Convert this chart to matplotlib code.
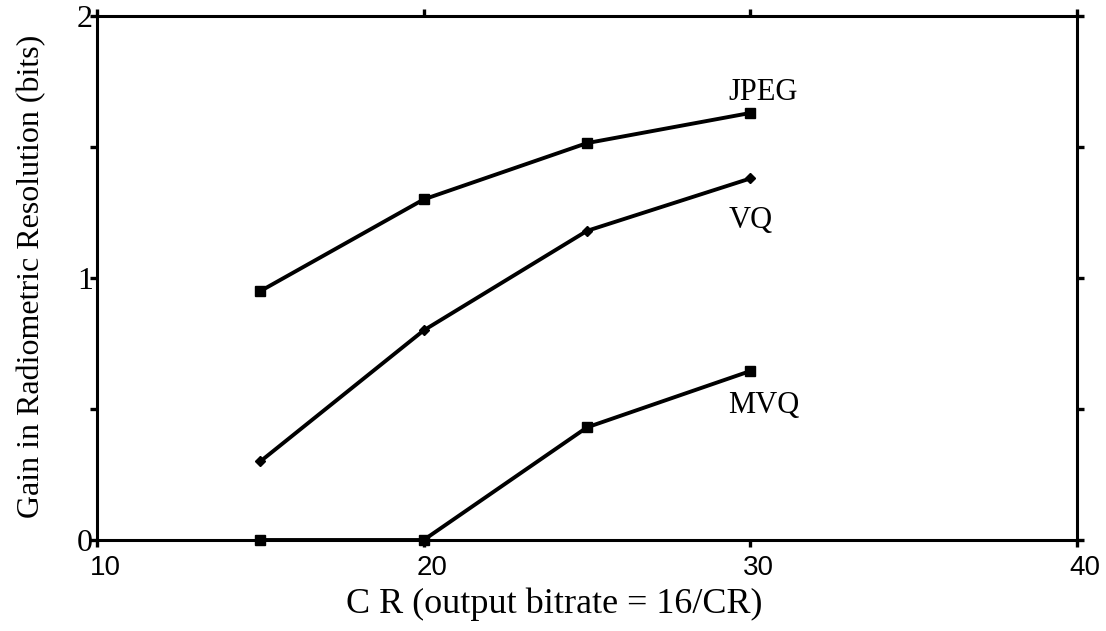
import matplotlib.pyplot as plt
from matplotlib.ticker import FixedLocator
from matplotlib.transforms import ScaledTranslation

# compression ratio and gain in radiometric resolution for each coder
cr = [15, 20, 25, 30]
jpeg_gain = [0.95, 1.30, 1.515, 1.63]
vq_gain = [0.30, 0.80, 1.18, 1.38]
mvq_gain = [0.0, 0.0, 0.43, 0.645]

series_names = ['JPEG', 'VQ', 'MVQ']
name_pos = [(29.32, 1.71), (29.32, 1.22), (29.32, 0.515)]

x_ticks = [10, 20, 30, 40]
y_ticks = [0, 1, 2]

serif = 'Liberation Serif'

fig = plt.figure(figsize=(11.06, 6.31), dpi=100)
ax = fig.add_axes([0.0877, 0.1442, 0.8861, 0.8304])

ax.plot(cr, jpeg_gain, color='black', lw=2.8, marker='s', ms=6.5, clip_on=False)
ax.plot(cr, vq_gain, color='black', lw=2.8, marker='D', ms=5.5, clip_on=False)
ax.plot(cr, mvq_gain, color='black', lw=2.8, marker='s', ms=6.5, clip_on=False)

for name, (tx, ty) in zip(series_names, name_pos):
    ax.text(tx, ty, name, fontsize=22, family=serif, ha='left', va='center')

ax.set_xlim(10, 40)
ax.set_ylim(0, 2)

for side in ['left', 'right', 'top', 'bottom']:
    ax.spines[side].set_linewidth(2.2)

ax.xaxis.set_major_locator(FixedLocator(x_ticks))
ax.yaxis.set_major_locator(FixedLocator(y_ticks))
ax.yaxis.set_minor_locator(FixedLocator([0.5, 1.5]))
ax.tick_params(axis='both', which='both', direction='out', width=2.4, length=5,
               top=True, right=True)
ax.tick_params(axis='x', labelsize=20, pad=6)
ax.tick_params(axis='y', labelsize=23, pad=-2)

# x tick numbers sit a little to the right of their ticks
shift = ScaledTranslation(8 / 100, 0, fig.dpi_scale_trans)
for tick in ax.xaxis.get_major_ticks():
    tick.label1.set_family('Liberation Sans')
    tick.label1.set_transform(tick.label1.get_transform() + shift)
for lab in ax.get_yticklabels():
    lab.set_family(serif)

ax.set_xlabel('C R (output bitrate = 16/CR)', fontsize=26, family=serif)
ax.set_ylabel('Gain in Radiometric Resolution (bits)', fontsize=23, family=serif)
ax.xaxis.set_label_coords(0.467, -0.09)
ax.yaxis.set_label_coords(-0.052, 0.504)

fig.savefig('out.png', dpi=100)
